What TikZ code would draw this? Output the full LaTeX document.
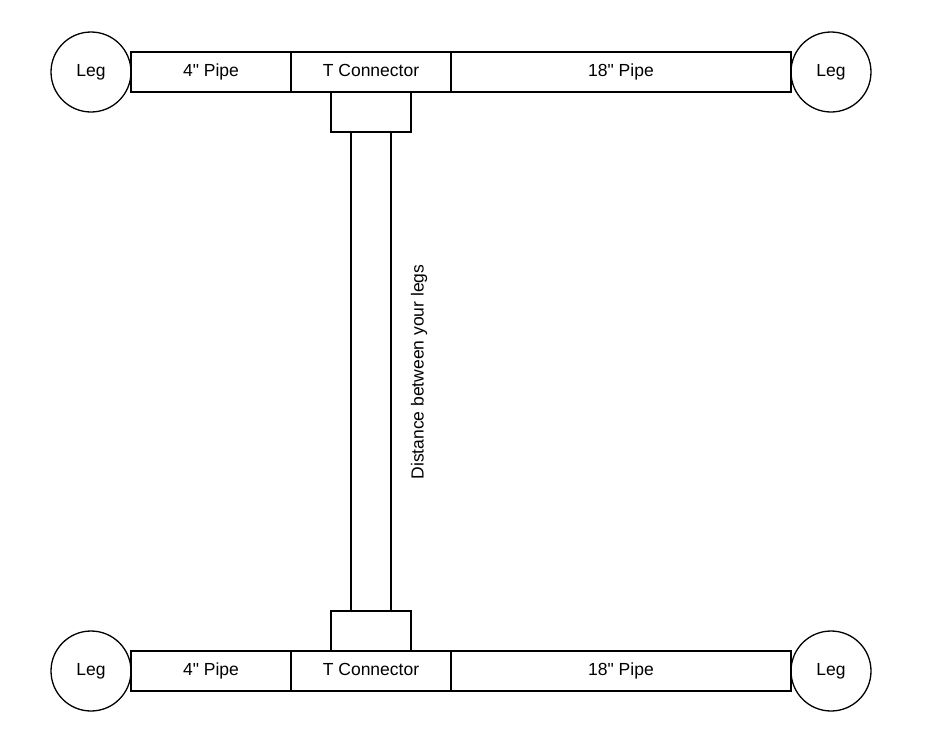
\documentclass[tikz,border=0pt]{standalone}
\usepackage{fontspec}
\setmainfont{Liberation Sans}[Ligatures=TeXOff]
\usetikzlibrary{positioning}
\tikzset{
  leg/.style={draw, circle, minimum size=80pt, inner sep=0pt, outer sep=0pt,
    text height=12.5pt, text depth=3.5pt},
  pipe/.style={draw, rectangle, minimum height=40pt, inner sep=0pt, outer sep=0pt,
    text height=12.5pt, text depth=3.5pt},
}
\begin{document}
\begin{tikzpicture}[x=1pt, y=-1pt, line width=1.3pt,
    font=\fontsize{17.5pt}{20pt}\selectfont]
  \useasboundingbox (0,0) rectangle (931,750);
  % top row
  \node[leg] (legTL) at (91,72) {Leg};
  \node[pipe, minimum width=160pt, right=0pt of legTL] (shortT) {4" Pipe};
  \node[pipe, minimum width=160pt, right=0pt of shortT] (teeT) {T Connector};
  \node[pipe, minimum width=340pt, right=0pt of teeT] (longT) {18" Pipe};
  \node[leg, right=0pt of longT] (legTR) {Leg};
  % middle
  \node[pipe, minimum width=80pt, below=0pt of teeT] (stubT) {};
  \node[pipe, minimum width=40pt, minimum height=479pt, below=0pt of stubT] (span) {};
  \node[pipe, minimum width=80pt, below=0pt of span] (stubB) {};
  \node[rotate=90] (dist) at (419,372) {Distance between your legs};
  % bottom row
  \node[pipe, minimum width=160pt, below=0pt of stubB] (teeB) {T Connector};
  \node[pipe, minimum width=160pt, left=0pt of teeB] (shortB) {4" Pipe};
  \node[leg, left=0pt of shortB] (legBL) {Leg};
  \node[pipe, minimum width=340pt, right=0pt of teeB] (longB) {18" Pipe};
  \node[leg, right=0pt of longB] (legBR) {Leg};
\end{tikzpicture}
\end{document}
